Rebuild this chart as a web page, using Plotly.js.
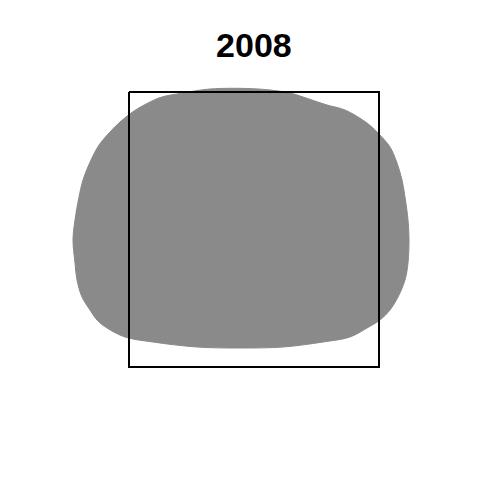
<!DOCTYPE html>
<html>
<head>
<meta charset="utf-8">
<script src="https://cdn.plot.ly/plotly-3.0.1.min.js"></script>
<style>
  html, body { margin: 0; padding: 0; background: #ffffff; }
  #chart { width: 480px; height: 480px; }
</style>
</head>
<body>
<div id="chart"></div>
<script>
// ==========================================================
// DATA (outline of the region and the frame box, in picture units)
// ==========================================================

let chartTitle = "2008";

let blobX = [210, 258, 290, 303, 327, 345, 367, 378, 390, 397, 402, 405, 408, 409, 408, 405, 398, 390, 380, 367, 350, 323, 283, 240, 197, 153, 125, 107, 97, 90, 82, 77, 75, 73, 75, 79, 83, 91, 99, 110, 120, 134, 150, 162, 183, 210];
let blobY = [89, 89, 93, 97, 105, 110, 123, 133, 147, 163, 180, 197, 220, 240, 263, 280, 297, 310, 320, 328, 337, 342, 347, 348, 347, 342, 337, 328, 320, 310, 297, 280, 263, 240, 220, 197, 180, 160, 145, 132, 122, 111, 102, 97, 93, 89];

let boxX = [129, 379, 379, 129, 129];
let boxY = [92, 92, 367, 367, 92];


// ==========================================================
// CHART
// ==========================================================

let hiddenAxis = {
    visible: false,
    showgrid: false,
    zeroline: false,
    fixedrange: true
};

Plotly.newPlot(

    "chart",

    [
        {
            x: blobX,
            y: blobY,
            type: "scatter",
            mode: "lines",
            fill: "toself",
            fillcolor: "#8a8a8a",
            line: { color: "#8a8a8a", width: 1, shape: "spline", smoothing: 1 },
            hoverinfo: "skip"
        },
        {
            x: boxX,
            y: boxY,
            type: "scatter",
            mode: "lines",
            line: { color: "#000000", width: 2 },
            hoverinfo: "skip"
        }
    ],

    {
        width: 480,
        height: 480,
        margin: { l: 0, r: 0, t: 0, b: 0 },
        paper_bgcolor: "#ffffff",
        plot_bgcolor: "#ffffff",
        showlegend: false,
        title: {
            text: "<b>" + chartTitle + "</b>",
            x: 0.529,
            xanchor: "center",
            y: 0.906,
            yanchor: "middle",
            font: { family: "Liberation Sans, Arial, sans-serif", size: 34, color: "#000000" }
        },
        xaxis: Object.assign({ range: [0, 480] }, hiddenAxis),
        yaxis: Object.assign({ range: [480, 0] }, hiddenAxis)
    },

    { staticPlot: true, displayModeBar: false }

);
</script>
</body>
</html>
